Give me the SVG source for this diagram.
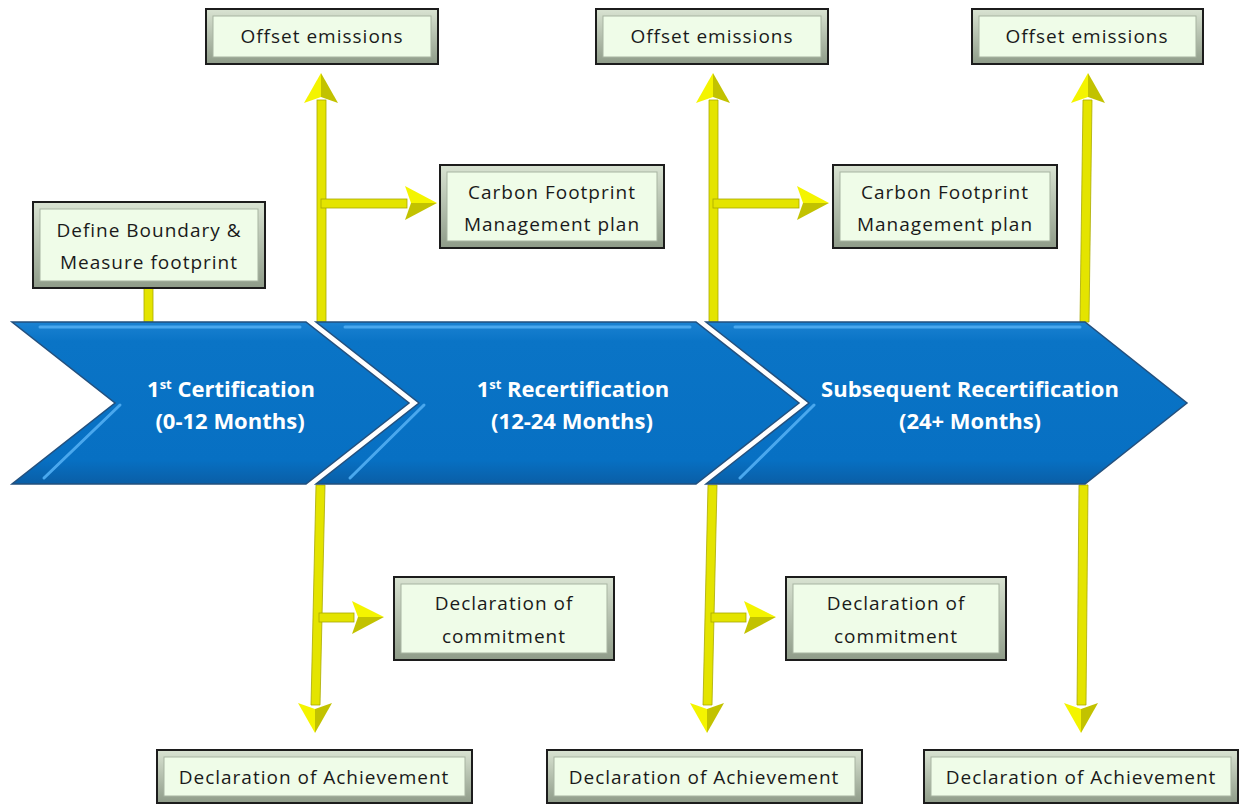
<svg xmlns="http://www.w3.org/2000/svg" width="1248" height="805" viewBox="0 0 1248 805">
<defs>
<linearGradient id="frame" x1="0" y1="0" x2="0" y2="1">
<stop offset="0" stop-color="#d9e3d2"/>
<stop offset="1" stop-color="#8f9c89"/>
</linearGradient>
<linearGradient id="chev" x1="0" y1="0" x2="0" y2="1">
<stop offset="0" stop-color="#1b82d2"/>
<stop offset="0.12" stop-color="#0a74c6"/>
<stop offset="0.85" stop-color="#0770c3"/>
<stop offset="1" stop-color="#0a5ea6"/>
</linearGradient>
<style>
.frame{fill:url(#frame);stroke:#1c1c1c;stroke-width:2}
.inner{fill:#effce8;stroke:#a7b4a1;stroke-width:1}
.bt{font-family:"Open Sans","Liberation Sans",sans-serif;font-size:19px;letter-spacing:1px;fill:#1a1a1a;text-anchor:middle}
.ct{font-family:"Open Sans","Liberation Sans",sans-serif;font-size:22px;font-weight:bold;fill:#ffffff;text-anchor:middle}
.chev{fill:url(#chev);stroke:#23507e;stroke-width:1.5}
.hl{fill:none;stroke:#4aa8ee;stroke-width:3;stroke-linecap:round}
.shaft{fill:#e4e400;stroke:#a9a900;stroke-width:0.8}
.hL{fill:#f4f400}
.hD{fill:#c2c200}
</style>
</defs>
<rect width="1248" height="805" fill="#ffffff"/>

<g id="connectors">
<!-- define -->
<rect class="shaft" x="144" y="288" width="9" height="34"/>
<!-- Line A -->
<rect class="shaft" x="317" y="100" width="9" height="222"/>
<polygon class="hL" points="321,73 304,103 321,97"/>
<polygon class="hD" points="321,73 338,103 321,97"/>
<rect class="shaft" x="321" y="199" width="86" height="9"/>
<polygon class="hL" points="437,203 405,186 411,203"/>
<polygon class="hD" points="437,203 405,220 411,203"/>
<polygon class="shaft" points="316,485 325,485 320,705 311,705"/>
<polygon class="hL" points="315,733 298,703 315,709"/>
<polygon class="hD" points="315,733 332,703 315,709"/>
<rect class="shaft" x="319" y="613" width="35" height="9"/>
<polygon class="hL" points="384,617 352,601 358,617"/>
<polygon class="hD" points="384,617 352,634 358,617"/>
<!-- Line B -->
<polygon class="shaft" points="709,322 718,322 718,100 709,100"/>
<polygon class="hL" points="713,73 696,103 713,97"/>
<polygon class="hD" points="713,73 730,103 713,97"/>
<rect class="shaft" x="713" y="199" width="86" height="9"/>
<polygon class="hL" points="829,203 797,186 803,203"/>
<polygon class="hD" points="829,203 797,220 803,203"/>
<polygon class="shaft" points="708,485 717,485 712,705 703,705"/>
<polygon class="hL" points="707,733 690,703 707,709"/>
<polygon class="hD" points="707,733 724,703 707,709"/>
<rect class="shaft" x="711" y="613" width="35" height="9"/>
<polygon class="hL" points="776,617 744,601 750,617"/>
<polygon class="hD" points="776,617 744,634 750,617"/>
<!-- Line C -->
<polygon class="shaft" points="1080,322 1089,322 1092,100 1083,100"/>
<polygon class="hL" points="1088,73 1071,103 1088,97"/>
<polygon class="hD" points="1088,73 1105,103 1088,97"/>
<polygon class="shaft" points="1079,485 1088,485 1086,705 1077,705"/>
<polygon class="hL" points="1081,733 1064,703 1081,709"/>
<polygon class="hD" points="1081,733 1098,703 1081,709"/>
</g>

<g id="chevron1">
<polygon class="chev" points="12,322 306,322 409,403 306,484 12,484 115,403"/>
<polyline class="hl" points="40,327 300,327"/>
<polyline class="hl" points="120,405 44,478"/>
<text class="ct" x="231" y="397">1<tspan font-size="13" dy="-8">st</tspan><tspan dy="8"> Certification</tspan></text>
<text class="ct" x="230" y="429">(0-12 Months)</text>
</g>
<g id="chevron2">
<polygon class="chev" points="316,322 696,322 799,403 696,484 316,484 419,403"/>
<polyline class="hl" points="345,327 690,327"/>
<polyline class="hl" points="424,405 350,478"/>
<text class="ct" x="573" y="397">1<tspan font-size="13" dy="-8">st</tspan><tspan dy="8"> Recertification</tspan></text>
<text class="ct" x="572" y="429">(12-24 Months)</text>
</g>
<g id="chevron3">
<polygon class="chev" points="706,322 1085,322 1187,403 1085,484 706,484 809,403"/>
<polyline class="hl" points="735,327 1080,327"/>
<polyline class="hl" points="814,405 740,478"/>
<text class="ct" x="970" y="397">Subsequent Recertification</text>
<text class="ct" x="970" y="429">(24+ Months)</text>
</g>

<g id="define">
<rect class="frame" x="33" y="202" width="232" height="86"/>
<rect class="inner" x="40" y="209" width="218" height="72"/>
<text class="bt" x="149" y="237">Define Boundary &amp;</text>
<text class="bt" x="149" y="269">Measure footprint</text>
</g>
<g id="offset1">
<rect class="frame" x="206" y="9" width="232" height="55"/>
<rect class="inner" x="213" y="16" width="218" height="41"/>
<text class="bt" x="322" y="43">Offset emissions</text>
</g>
<g id="offset2">
<rect class="frame" x="596" y="9" width="232" height="55"/>
<rect class="inner" x="603" y="16" width="218" height="41"/>
<text class="bt" x="712" y="43">Offset emissions</text>
</g>
<g id="offset3">
<rect class="frame" x="972" y="9" width="231" height="55"/>
<rect class="inner" x="979" y="16" width="217" height="41"/>
<text class="bt" x="1087" y="43">Offset emissions</text>
</g>
<g id="carbon1">
<rect class="frame" x="440" y="165" width="224" height="83"/>
<rect class="inner" x="447" y="172" width="210" height="69"/>
<text class="bt" x="552" y="199">Carbon Footprint</text>
<text class="bt" x="552" y="231">Management  plan</text>
</g>
<g id="carbon2">
<rect class="frame" x="833" y="165" width="224" height="83"/>
<rect class="inner" x="840" y="172" width="210" height="69"/>
<text class="bt" x="945" y="199">Carbon Footprint</text>
<text class="bt" x="945" y="231">Management  plan</text>
</g>
<g id="commit1">
<rect class="frame" x="394" y="577" width="220" height="83"/>
<rect class="inner" x="401" y="584" width="206" height="69"/>
<text class="bt" x="504" y="610">Declaration of</text>
<text class="bt" x="504" y="643">commitment</text>
</g>
<g id="commit2">
<rect class="frame" x="786" y="577" width="220" height="83"/>
<rect class="inner" x="793" y="584" width="206" height="69"/>
<text class="bt" x="896" y="610">Declaration of</text>
<text class="bt" x="896" y="643">commitment</text>
</g>
<g id="achieve1">
<rect class="frame" x="157" y="750" width="315" height="53"/>
<rect class="inner" x="164" y="757" width="301" height="39"/>
<text class="bt" x="314" y="784">Declaration of Achievement</text>
</g>
<g id="achieve2">
<rect class="frame" x="547" y="750" width="315" height="53"/>
<rect class="inner" x="554" y="757" width="301" height="39"/>
<text class="bt" x="704" y="784">Declaration of Achievement</text>
</g>
<g id="achieve3">
<rect class="frame" x="924" y="750" width="314" height="53"/>
<rect class="inner" x="931" y="757" width="300" height="39"/>
<text class="bt" x="1081" y="784">Declaration of Achievement</text>
</g>
</svg>
